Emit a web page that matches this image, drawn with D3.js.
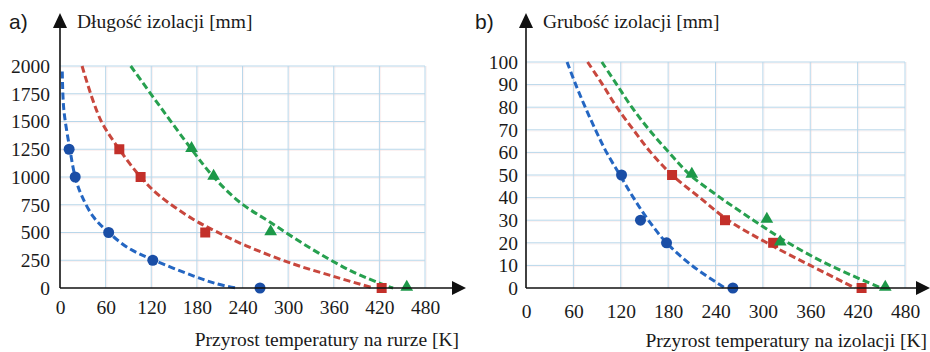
<!DOCTYPE html>
<html lang="pl">
<head>
  <meta charset="UTF-8" />
  <title>Przyrost temperatury</title>
  <script src="https://d3js.org/d3.v7.min.js"></script>
  <style>
    body { margin: 0; background: #fff; }
  </style>
</head>
<body>
  <svg id="chart" width="930" height="352"></svg>

  <script>
    const SERIF = "Liberation Serif";

    // tick values
    const xTicks = [0, 60, 120, 180, 240, 300, 360, 420, 480];
    const yTicksA = [0, 250, 500, 750, 1000, 1250, 1500, 1750, 2000];
    const yTicksB = [0, 10, 20, 30, 40, 50, 60, 70, 80, 90, 100];

    // a) długość izolacji - punkty pomiarowe
    const blueAx = [12, 20, 64, 122, 263];
    const blueAy = [1250, 1000, 500, 250, 0];
    const redAx = [78, 106, 191, 423];
    const redAy = [1250, 1000, 500, 0];
    const greenAx = [173, 202, 277, 456];
    const greenAy = [1250, 1000, 500, 0];

    // a) linie trendu (odczytane z rysunku)
    const blueTrendA = [[3, 1950], [5, 1610], [13, 1250], [20, 1000], [28, 840], [44, 640], [64, 500], [90, 360], [122, 255], [175, 110], [206, 38], [232, 0]];
    const redTrendA = [[29, 2000], [53, 1520], [78, 1250], [106, 1000], [131, 830], [175, 620], [205, 510], [245, 380], [307, 216], [364, 96], [412, 0]];
    const greenTrendA = [[93, 2000], [131, 1640], [173, 1250], [202, 1000], [237, 770], [277, 590], [329, 360], [381, 160], [429, 20], [438, 0]];

    // b) grubość izolacji - punkty pomiarowe
    const blueBx = [121, 145, 178, 262];
    const blueBy = [50, 30, 20, 0];
    const redBx = [185, 252, 313, 425];
    const redBy = [50, 30, 20, 0];
    const greenBx = [210, 305, 322, 455];
    const greenBy = [50, 30, 20, 0];

    // b) linie trendu
    const blueTrendB = [[52, 100], [63, 90], [75, 80], [88, 70], [102, 60], [119, 50], [136, 40], [155, 30], [178, 20], [210, 10], [252, 0]];
    const redTrendB = [[78, 100], [97, 90], [115, 80], [136, 70], [158, 60], [185, 50], [220, 40], [256, 30], [305, 20], [360, 10], [417, 0]];
    const greenTrendB = [[96, 100], [115, 90], [134, 80], [156, 70], [181, 60], [208, 50], [246, 40], [288, 30], [332, 20], [385, 10], [450, 0]];

    const colors = {
      blue: { line: "#2466c2", mark: "#1a4ea6" },
      red: { line: "#c8473d", mark: "#c3302a" },
      green: { line: "#27a04f", mark: "#1c9848" }
    };

    const svg = d3.select("#chart");

    function zip(xs, ys) {
      return xs.map((x, i) => [x, ys[i]]);
    }

    function drawPanel(cfg) {
      const x = d3.scaleLinear().domain([0, 480]).range([cfg.x0, cfg.x1]);
      const y = d3.scaleLinear().domain([0, cfg.yMax]).range([288, cfg.yTop]);
      const g = svg.append("g");

      // siatka (z lekkim różowym przesunięciem jak w druku)
      const grid = g.append("g");
      [["#f2cccc", 1.2, 0.3], ["#b9d7ea", 0, 1]].forEach(([col, off, op]) => {
        grid.selectAll(null).data(xTicks.slice(1)).join("line")
          .attr("x1", d => x(d) + off).attr("x2", d => x(d) + off)
          .attr("y1", y(cfg.yMax)).attr("y2", y(0))
          .attr("stroke", col).attr("stroke-opacity", op);
        grid.selectAll(null).data(cfg.yTicks.slice(1)).join("line")
          .attr("x1", x(0)).attr("x2", x(480))
          .attr("y1", d => y(d) + off).attr("y2", d => y(d) + off)
          .attr("stroke", col).attr("stroke-opacity", op);
      });

      // osie z opisami
      const fmt = d3.format("d");
      const yAxis = g.append("g")
        .attr("transform", `translate(${x(0)},0)`)
        .call(d3.axisLeft(y).tickValues(cfg.yTicks).tickFormat(fmt).tickSize(0).tickPadding(cfg.yPad));
      const xAxis = g.append("g")
        .attr("transform", `translate(0,${y(0)})`)
        .call(d3.axisBottom(x).tickValues(xTicks).tickFormat(fmt).tickSize(0).tickPadding(cfg.xPad));
      [xAxis, yAxis].forEach(a => {
        a.select(".domain").remove();
        a.selectAll("text")
          .style("font-family", SERIF)
          .style("font-size", "19.5px")
          .style("fill", "#1a1a1a");
      });

      // linie trendu
      const line = d3.line()
        .x(d => x(d[0]))
        .y(d => y(d[1]))
        .curve(d3.curveCatmullRom.alpha(0.5));
      cfg.series.forEach(s => {
        g.append("path")
          .attr("d", line(s.trend))
          .attr("fill", "none")
          .attr("stroke", colors[s.color].line)
          .attr("stroke-width", 3)
          .attr("stroke-dasharray", "7,3.5");
      });

      // punkty
      cfg.series.forEach(s => {
        const pts = zip(s.xs, s.ys);
        const sym = d3.symbol().type(s.shape).size(s.size);
        g.selectAll(null).data(pts).join("path")
          .attr("transform", d => `translate(${x(d[0])},${y(d[1]) - (s.shape === d3.symbolTriangle ? 1 : 0)})`)
          .attr("d", sym)
          .attr("fill", colors[s.color].mark);
      });

      // osie czarne ze strzałkami
      g.append("line")
        .attr("x1", x(0)).attr("x2", x(0))
        .attr("y1", y(0)).attr("y2", 26)
        .attr("stroke", "#111").attr("stroke-width", 1.6);
      g.append("line")
        .attr("x1", x(0)).attr("x2", cfg.arrowX - 12)
        .attr("y1", y(0)).attr("y2", y(0))
        .attr("stroke", "#111").attr("stroke-width", 1.6);
      g.append("path")
        .attr("d", `M${x(0)},13 L${x(0) - 7},28 L${x(0) + 7},28 Z`)
        .attr("fill", "#111");
      g.append("path")
        .attr("d", `M${cfg.arrowX},${y(0)} L${cfg.arrowX - 14},${y(0) - 7} L${cfg.arrowX - 14},${y(0) + 7} Z`)
        .attr("fill", "#111");

      // tytuły
      g.append("text")
        .attr("x", cfg.labelX).attr("y", 29)
        .style("font-family", "Liberation Sans")
        .style("font-size", "21px")
        .style("fill", "#1a1a1a")
        .text(cfg.label);
      g.append("text")
        .attr("x", x(0) + 17).attr("y", 28)
        .style("font-family", SERIF)
        .style("font-size", "19.5px")
        .style("fill", "#1a1a1a")
        .text(cfg.yTitle);
      g.append("text")
        .attr("x", cfg.xTitleX).attr("y", cfg.xTitleY)
        .attr("text-anchor", "end")
        .style("font-family", SERIF)
        .style("font-size", "19.5px")
        .style("fill", "#1a1a1a")
        .text(cfg.xTitle);
    }

    drawPanel({
      x0: 60, x1: 425, yTop: 66, yMax: 2000, yTicks: yTicksA,
      yPad: 10, xPad: 12, arrowX: 466,
      label: "a)", labelX: 9,
      yTitle: "Długość izolacji [mm]",
      xTitle: "Przyrost temperatury na rurze [K]", xTitleX: 459, xTitleY: 346,
      series: [
        { color: "blue", xs: blueAx, ys: blueAy, trend: blueTrendA, shape: d3.symbolCircle, size: 95 },
        { color: "red", xs: redAx, ys: redAy, trend: redTrendA, shape: d3.symbolSquare, size: 100 },
        { color: "green", xs: greenAx, ys: greenAy, trend: greenTrendA, shape: d3.symbolTriangle, size: 70 }
      ]
    });

    drawPanel({
      x0: 526, x1: 905, yTop: 62, yMax: 100, yTicks: yTicksB,
      yPad: 8, xPad: 16, arrowX: 930,
      label: "b)", labelX: 475,
      yTitle: "Grubość izolacji [mm]",
      xTitle: "Przyrost temperatury na izolacji [K]", xTitleX: 927, xTitleY: 347,
      series: [
        { color: "blue", xs: blueBx, ys: blueBy, trend: blueTrendB, shape: d3.symbolCircle, size: 95 },
        { color: "red", xs: redBx, ys: redBy, trend: redTrendB, shape: d3.symbolSquare, size: 100 },
        { color: "green", xs: greenBx, ys: greenBy, trend: greenTrendB, shape: d3.symbolTriangle, size: 70 }
      ]
    });
  </script>
</body>
</html>
